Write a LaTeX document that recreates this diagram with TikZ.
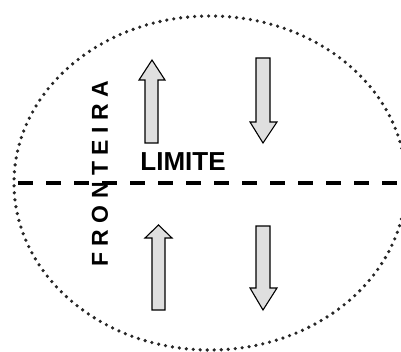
\documentclass[tikz,border=0pt]{standalone}
\usepackage{fontspec}
\setmainfont{Liberation Sans}

\tikzset{
  flowarrow/.style={draw=black, fill=gray!25, line width=1.1pt, line join=miter},
  boundary/.style={draw=black!85, line width=3.6pt, line cap=round, dash pattern=on 0pt off 7pt},
  limitline/.style={draw=black, line width=3.6pt, dash pattern=on 15pt off 13pt}
}

\begin{document}
\begin{tikzpicture}[x=1pt,y=1pt]
    \useasboundingbox (0,0) rectangle (401,351);

    % draw dotted boundary
    \draw[boundary] (210,168) ellipse [x radius=196, y radius=167];

    % draw dashed limit line
    \draw[limitline] (18,168) -- (401,168);

    % draw arrows above the line
    \draw[flowarrow] (145,208) -- (145,271) -- (139,271) -- (152,291) -- (165,271) -- (158,271) -- (158,208) -- cycle;
    \draw[flowarrow] (256,293) -- (256,229) -- (250,229) -- (263,208) -- (277,229) -- (270,229) -- (270,293) -- cycle;

    % draw arrows below the line
    \draw[flowarrow] (152,41) -- (152,113) -- (145,113) -- (158.5,126) -- (172,113) -- (165,113) -- (165,41) -- cycle;
    \draw[flowarrow] (256,125) -- (256,63) -- (250,63) -- (263,41) -- (277,63) -- (270,63) -- (270,125) -- cycle;

    % draw labels
    \node (limite) at (183,189) {\fontsize{26}{26}\selectfont\bfseries LIMITE};
    \node[rotate=90] (fronteira) at (100,177) {\fontsize{23}{23}\selectfont\bfseries F R O N T E I R A};
\end{tikzpicture}
\end{document}
